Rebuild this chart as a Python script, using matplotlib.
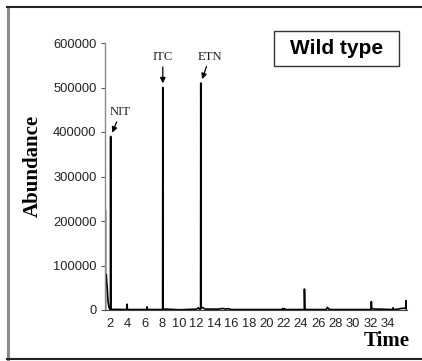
import matplotlib
matplotlib.use("Agg")
import matplotlib.pyplot as plt
from matplotlib.lines import Line2D
from matplotlib.patches import Rectangle

# ---- data ----
time_main = [1.55, 1.6, 1.65, 1.7, 1.75, 1.8, 1.9, 2.0, 2.08, 2.1, 2.12, 2.5,
             3.98, 4.0, 4.02, 6.28, 6.3, 6.32, 8.08, 8.1, 8.12, 8.5, 9.0, 10.0,
             12.0, 12.2, 12.3, 12.45, 12.47, 12.5, 12.6, 13.0, 14.5, 15.0, 15.3,
             15.6, 16.0, 21.8, 21.9, 22.0, 22.1, 22.2, 24.38, 24.4, 24.45, 24.6,
             26.9, 27.05, 27.2, 27.5, 32.05, 32.1, 32.15, 32.5, 33.0, 34.55,
             34.6, 34.65, 35.2, 35.5, 36.05, 36.1, 36.15]
abund_main = [75000, 80000, 62000, 52000, 35000, 20000, 6000, 2500, 1000, 390000,
              1000, 1500, 1000, 13000, 1000, 1000, 7000, 1000, 1000, 500000,
              2000, 2000, 1500, 500, 2000, 5000, 2000, 2000, 510000, 5000, 6000,
              2000, 2000, 3500, 2000, 3000, 1000, 1000, 3500, 1000, 3500, 1000,
              1000, 47000, 3000, 1000, 1000, 6000, 2000, 1000, 1000, 19000, 3000,
              2000, 2000, 1000, 5000, 1000, 2000, 3500, 4000, 21000, 2000]
time_grey = [1.47, 1.5, 1.53]
abund_grey = [0, 225000, 0]

peak_names = ["NIT", "ITC", "ETN"]
peak_times = [2.1, 8.1, 12.47]
peak_heights = [390000, 500000, 510000]
label_offsets = [(7.2, 17.3), (0.0, 21.6), (6.5, 18.7)]  # points

x_ticks = list(range(2, 35, 2))
y_ticks = [0, 100000, 200000, 300000, 400000, 500000, 600000]

W, H = 422, 361
fig = plt.figure(figsize=(W / 100, H / 100), dpi=100)
fig.patch.set_facecolor("white")

ax = fig.add_axes([105 / W, 1 - 310 / H, (407 - 105) / W, (310 - 43) / H])
ax.plot(time_grey, abund_grey, color="#8a8a8a", lw=1.3, solid_joinstyle="miter")
ax.plot(time_main, abund_main, color="black", lw=1.2)

ax.set_xlim(1.45, 36.2)
ax.set_ylim(0, 600000)

for s in ["top", "right"]:
    ax.spines[s].set_visible(False)
ax.spines["left"].set_color("#8a8a8a")
ax.spines["left"].set_linewidth(1.0)
ax.spines["bottom"].set_color("#444444")
ax.spines["bottom"].set_linewidth(0.8)

ax.set_xticks(x_ticks)
ax.set_xticklabels([str(v) for v in x_ticks], fontfamily="Liberation Sans",
                   fontsize=9.3, color="#222222")
ax.set_yticks(y_ticks)
ax.set_yticklabels([str(v) for v in y_ticks], fontfamily="Liberation Sans",
                   fontsize=9.3, color="#222222")
ax.tick_params(axis="x", length=0, pad=6)
ax.tick_params(axis="y", length=3, width=0.8, color="#555555", pad=3)

for name, t, h, off in zip(peak_names, peak_times, peak_heights, label_offsets):
    ax.annotate(name, xy=(t, h), xytext=off, textcoords="offset points",
                ha="center", va="center", fontfamily="Liberation Serif",
                fontsize=9.2, color="#222222",
                arrowprops=dict(arrowstyle="-|>", color="black", lw=0.9,
                                mutation_scale=8, shrinkA=0.5, shrinkB=3))

fig.text(33 / W, 1 - 166 / H, "Abundance", rotation=90, ha="center", va="center",
         fontfamily="Liberation Serif", fontweight="bold", fontsize=15)
fig.text(387 / W, 1 - 341 / H, "Time", ha="center", va="center",
         fontfamily="Liberation Serif", fontweight="bold", fontsize=15)
fig.add_artist(Rectangle((274 / W, 1 - 66 / H), (399 - 274) / W, (66 - 31) / H,
                         facecolor="white", edgecolor="#333333", lw=1.0,
                         transform=fig.transFigure))
fig.text(336.5 / W, 1 - 48.5 / H, "Wild type", ha="center", va="center",
         fontfamily="Liberation Sans", fontweight="bold", fontsize=15)

# outer frame (left grey, top and bottom black)
fig.add_artist(Line2D([7.5 / W, 7.5 / W], [1 - 359 / H, 1 - 7 / H],
                      color="#8a8a8a", lw=2.2, transform=fig.transFigure))
fig.add_artist(Line2D([7 / W, 1.0], [1 - 7 / H, 1 - 7 / H],
                      color="#222222", lw=1.5, transform=fig.transFigure))
fig.add_artist(Line2D([7 / W, 1.0], [1 - 359 / H, 1 - 359 / H],
                      color="#222222", lw=1.5, transform=fig.transFigure))

fig.savefig("out.png", dpi=100)
